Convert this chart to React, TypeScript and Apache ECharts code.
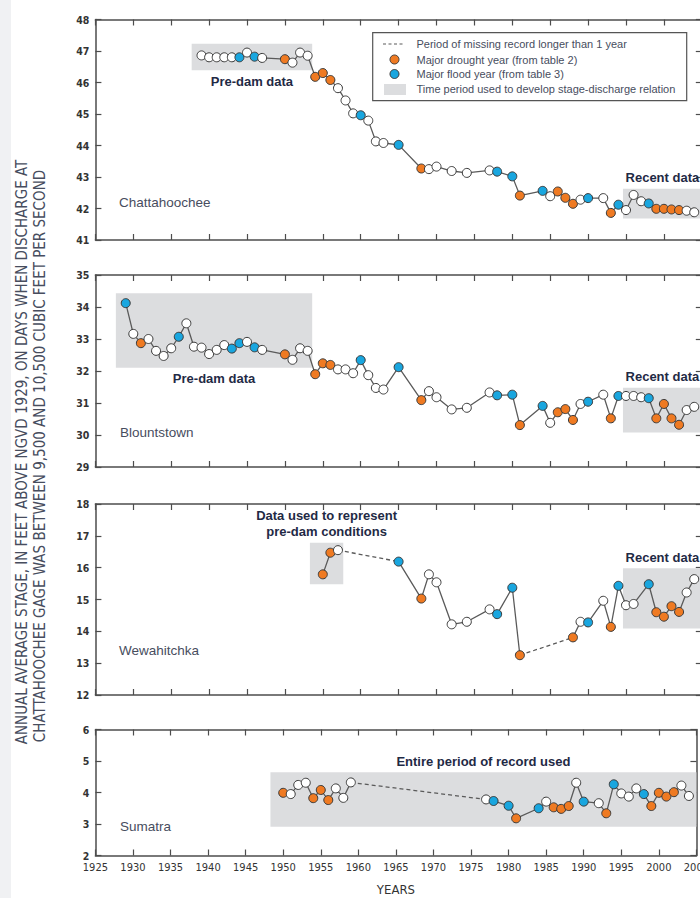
import React, { useEffect, useRef } from "react";
import * as echarts from "echarts";

// ---------- DATA ----------
const stationNames = ["Chattahoochee", "Blountstown", "Wewahitchka", "Sumatra"];

const chattYears = [1939,1940,1941,1942,1943,1944,1945,1946,1947,1950,1951,1952,1953,1954,1955,1956,1957,1958,1959,1960,1961,1962,1963,1965,1968,1969,1970,1972,1974,1977,1978,1980,1981,1984,1985,1986,1987,1988,1989,1990,1992,1993,1994,1995,1996,1997,1998,1999,2000,2001,2002,2003,2004];
const chattStage = [46.86,46.8,46.8,46.8,46.8,46.8,46.95,46.82,46.78,46.74,46.63,46.95,46.85,46.18,46.3,46.08,45.82,45.43,45.02,44.96,44.79,44.13,44.08,44.02,43.27,43.25,43.33,43.19,43.13,43.21,43.17,43.02,42.41,42.56,42.39,42.54,42.34,42.15,42.28,42.33,42.33,41.86,42.12,41.95,42.43,42.23,42.16,41.99,41.99,41.97,41.95,41.93,41.88];
const chattDrought = [1950,1954,1955,1956,1968,1981,1986,1987,1988,1993,1999,2000,2001,2002];
const chattFlood = [1944,1946,1960,1965,1978,1980,1984,1990,1994,1998];
const chattMissing: number[] = [];

const blountYears = [1929,1930,1931,1932,1933,1934,1935,1936,1937,1938,1939,1940,1941,1942,1943,1944,1945,1946,1947,1950,1951,1952,1953,1954,1955,1956,1957,1958,1959,1960,1961,1962,1963,1965,1968,1969,1970,1972,1974,1977,1978,1980,1981,1984,1985,1986,1987,1988,1989,1990,1992,1993,1994,1995,1996,1997,1998,1999,2000,2001,2002,2003,2004];
const blountStage = [34.12,33.16,32.87,33.0,32.63,32.47,32.71,33.07,33.49,32.76,32.73,32.53,32.66,32.81,32.7,32.87,32.91,32.74,32.66,32.52,32.35,32.71,32.63,31.9,32.24,32.19,32.05,32.05,31.93,32.34,31.87,31.47,31.42,32.12,31.09,31.37,31.18,30.8,30.85,31.33,31.24,31.26,30.31,30.91,30.38,30.71,30.81,30.47,30.97,31.04,31.26,30.52,31.22,31.22,31.22,31.18,31.15,30.52,30.97,30.52,30.32,30.78,30.88];
const blountDrought = [1931,1950,1954,1955,1956,1968,1981,1986,1987,1988,1993,1999,2000,2001,2002];
const blountFlood = [1929,1936,1943,1944,1946,1960,1965,1978,1980,1984,1990,1994,1998];
const blountMissing: number[] = [];

const wewaYears = [1955,1956,1957,1965,1968,1969,1970,1972,1974,1977,1978,1980,1981,1988,1989,1990,1992,1993,1994,1995,1996,1998,1999,2000,2001,2002,2003,2004];
const wewaStage = [15.79,16.47,16.55,16.19,15.03,15.79,15.54,14.22,14.3,14.69,14.54,15.37,13.25,13.81,14.3,14.28,14.96,14.14,15.43,14.82,14.86,15.48,14.6,14.46,14.79,14.61,15.22,15.64];
const wewaDrought = [1955,1956,1968,1981,1988,1993,1999,2000,2001,2002];
const wewaFlood = [1965,1978,1980,1990,1994,1998];
const wewaMissing = [1957, 1981]; // dashed segment starts after these years

const sumYears = [1950,1951,1952,1953,1954,1955,1956,1957,1958,1959,1977,1978,1980,1981,1984,1985,1986,1987,1988,1989,1990,1992,1993,1994,1995,1996,1997,1998,1999,2000,2001,2002,2003,2004];
const sumStage = [3.99,3.95,4.24,4.31,3.82,4.08,3.76,4.13,3.83,4.32,3.78,3.73,3.58,3.18,3.5,3.71,3.53,3.48,3.57,4.31,3.71,3.66,3.34,4.26,3.97,3.87,4.13,3.95,3.57,3.99,3.87,4.01,4.22,3.89];
const sumDrought = [1950,1954,1955,1956,1981,1986,1987,1988,1993,1999,2000,2001,2002];
const sumFlood = [1978,1980,1984,1990,1994,1998];
const sumMissing = [1959];

// y-axis ranges
const yMins = [41, 29, 12, 2];
const yMaxs = [48, 35, 18, 6];
const xMin = 1925;
const xMax = 2005;

// periods used to develop stage-discharge relation: [startYear, lowStage, endYear, highStage]
const chattPeriods = [[1937.7, 46.39, 1953.6, 47.23], [1994.6, 41.68, 2005, 42.63]];
const blountPeriods = [[1927.7, 32.1, 1953.6, 34.43], [1994.6, 30.08, 2005, 31.48]];
const wewaPeriods = [[1953.3, 15.48, 1957.7, 16.78], [1994.6, 14.09, 2005, 15.98]];
const sumPeriods = [[1948.3, 2.91, 2005, 4.64]];
const chattPeriodLabels = ["Pre-dam data", "Recent data"];
const blountPeriodLabels = ["Pre-dam data", "Recent data"];
const wewaPeriodLabels = ["Data used to represent\npre-dam conditions", "Recent data"];
const sumPeriodLabels = ["Entire period of record used"];

const legendItems = [
  "Period of missing record longer than 1 year",
  "Major drought year (from table 2)",
  "Major flood year (from table 3)",
  "Time period used to develop stage-discharge relation",
];
const yTitle1 = "ANNUAL AVERAGE STAGE, IN FEET ABOVE NGVD 1929, ON DAYS WHEN DISCHARGE AT";
const yTitle2 = "CHATTAHOOCHEE GAGE WAS BETWEEN 9,500 AND 10,500 CUBIC FEET PER SECOND";

// ---------- STYLE ----------
const COND = "'Liberation Sans Narrow','Arial Narrow','DejaVu Sans Condensed','Roboto Condensed','Liberation Sans',sans-serif";
const SANS = "'Liberation Sans',Arial,Helvetica,sans-serif";
const ORANGE = "#ef7a22";
const BLUE = "#19a6df";
const AXIS = "#4d4d4d";
const LINE = "#5a5a5a";
const BOX = "#dcdddf";
const LABEL_DARK = "#1f2a45";
const TEXT_GRAY = "#474d5e";

const gridLeft = 95.4;
const gridWidth = 606.4;
const panelTops = [19.5, 275, 504, 729.5];
const panelHeights = [220.5, 192, 191, 126];
const labelLayout = [
  ["bottom", "top"],
  ["bottom", "top"],
  ["top", "top"],
  ["top"],
];

export default function App() {
  const ref = useRef<HTMLDivElement>(null);
  useEffect(() => {
    if (!ref.current) return;
    const chart = echarts.init(ref.current, null, { renderer: "svg" });

    const stations = [
      { years: chattYears, stage: chattStage, drought: chattDrought, flood: chattFlood, missing: chattMissing, periods: chattPeriods, labels: chattPeriodLabels },
      { years: blountYears, stage: blountStage, drought: blountDrought, flood: blountFlood, missing: blountMissing, periods: blountPeriods, labels: blountPeriodLabels },
      { years: wewaYears, stage: wewaStage, drought: wewaDrought, flood: wewaFlood, missing: wewaMissing, periods: wewaPeriods, labels: wewaPeriodLabels },
      { years: sumYears, stage: sumStage, drought: sumDrought, flood: sumFlood, missing: sumMissing, periods: sumPeriods, labels: sumPeriodLabels },
    ];

    const grids: any[] = [];
    const xAxes: any[] = [];
    const yAxes: any[] = [];
    const series: any[] = [];
    const axisLine = { show: true, onZero: false, lineStyle: { color: AXIS, width: 1.5 } };
    const axisTick = { show: true, inside: true, length: 6, lineStyle: { color: AXIS, width: 1.2 } };

    for (let i = 0; i < 4; i++) {
      grids.push({ left: gridLeft, width: gridWidth, top: panelTops[i], height: panelHeights[i], containLabel: false });
    }
    for (let i = 0; i < 4; i++) {
      xAxes.push({
        gridIndex: i, type: "value", min: xMin, max: xMax, interval: 5, position: "bottom",
        axisLine, axisTick, splitLine: { show: false },
        axisLabel: { show: i === 3, color: "#333", fontFamily: COND, fontSize: 11, margin: 6, formatter: (v: number) => String(v) },
        name: i === 3 ? "YEARS" : "", nameLocation: "middle", nameGap: 27,
        nameTextStyle: { color: "#333", fontFamily: COND, fontSize: 13 },
      });
    }
    for (let i = 0; i < 4; i++) {
      xAxes.push({
        gridIndex: i, type: "value", min: xMin, max: xMax, interval: 5, position: "top",
        axisLine, axisTick, splitLine: { show: false }, axisLabel: { show: false },
      });
    }
    for (let i = 0; i < 4; i++) {
      yAxes.push({
        gridIndex: i, type: "value", min: yMins[i], max: yMaxs[i], interval: 1, position: "left",
        axisLine, axisTick, splitLine: { show: false },
        axisLabel: { color: "#333", fontFamily: COND, fontSize: 10.5, fontWeight: "bold", margin: 6 },
      });
    }
    for (let i = 0; i < 4; i++) {
      yAxes.push({
        gridIndex: i, type: "value", min: yMins[i], max: yMaxs[i], interval: 1, position: "right",
        axisLine, axisTick, splitLine: { show: false }, axisLabel: { show: false },
      });
    }

    stations.forEach((s, i) => {
      // dashed segments for missing records
      const dashed: any[] = [];
      s.missing.forEach((g) => {
        const k = s.years.indexOf(g);
        dashed.push([s.years[k], s.stage[k]], [s.years[k + 1], s.stage[k + 1]], [(s.years[k] + s.years[k + 1]) / 2 + 0.01, "-"]);
      });
      series.push({
        type: "line", xAxisIndex: i, yAxisIndex: i, data: dashed, symbol: "none", z: 2,
        lineStyle: { color: LINE, width: 1.3, type: [4, 3] }, silent: true, connectNulls: false,
        markArea: {
          silent: true,
          itemStyle: { color: BOX },
          label: { show: true, color: LABEL_DARK, fontFamily: SANS, fontWeight: "bold", fontSize: 13, lineHeight: 16 },
          data: s.periods.map((p, j) => [
            { xAxis: p[0], yAxis: p[1], name: s.labels[j], label: { position: labelLayout[i][j], distance: 3 } },
            { xAxis: p[2], yAxis: p[3] },
          ]),
        },
      });
      // solid line with markers
      const solid: any[] = [];
      s.years.forEach((y, k) => {
        const color = s.drought.includes(y) ? ORANGE : s.flood.includes(y) ? BLUE : "#ffffff";
        solid.push({ value: [y, s.stage[k]], itemStyle: { color } });
        if (s.missing.includes(y) && k < s.years.length - 1) {
          solid.push({ value: [(y + s.years[k + 1]) / 2, "-"] });
        }
      });
      series.push({
        type: "line", xAxisIndex: i, yAxisIndex: i, data: solid, z: 3, silent: true,
        connectNulls: false, showSymbol: true, showAllSymbol: true,
        symbol: "circle", symbolSize: 9,
        lineStyle: { color: LINE, width: 1.3 },
        itemStyle: { borderColor: "#3a3a3a", borderWidth: 1 },
      });
    });

    const stationLabelPos = [[119, 202], [120, 432], [119, 650], [120, 826]];
    const graphic: any[] = [
      { type: "rect", left: 0, top: 0, shape: { x: 0, y: 0, width: 11, height: 898 }, style: { fill: "#f0f1f3" }, z: 0 },
      { type: "text", x: 22, y: 452, rotation: Math.PI / 2, style: { text: yTitle1, fill: TEXT_GRAY, font: `15px ${COND}`, align: "center", verticalAlign: "middle" } },
      { type: "text", x: 40, y: 456, rotation: Math.PI / 2, style: { text: yTitle2, fill: TEXT_GRAY, font: `15px ${COND}`, align: "center", verticalAlign: "middle" } },
      ...stationNames.map((n, i) => ({
        type: "text", x: stationLabelPos[i][0], y: stationLabelPos[i][1],
        style: { text: n, fill: TEXT_GRAY, font: `13.5px ${SANS}`, align: "left", verticalAlign: "middle" },
      })),
      // legend
      { type: "rect", shape: { x: 372.7, y: 32.7, width: 314, height: 68 }, style: { fill: "#fff", stroke: "#555", lineWidth: 1.2 }, z: 10 },
      { type: "line", shape: { x1: 383, y1: 44, x2: 405, y2: 44 }, style: { stroke: LINE, lineWidth: 1.2, lineDash: [3, 2.5] }, z: 11 },
      { type: "circle", shape: { cx: 394.5, cy: 59.5, r: 4.5 }, style: { fill: ORANGE, stroke: "#3a3a3a", lineWidth: 1 }, z: 11 },
      { type: "circle", shape: { cx: 394.5, cy: 74, r: 4.5 }, style: { fill: BLUE, stroke: "#3a3a3a", lineWidth: 1 }, z: 11 },
      { type: "rect", shape: { x: 384, y: 84, width: 22, height: 11 }, style: { fill: BOX }, z: 11 },
      ...legendItems.map((t, j) => ({
        type: "text", x: 416.5, y: [44.3, 59.8, 73.5, 89.3][j], z: 11,
        style: { text: t, fill: TEXT_GRAY, font: `11px ${SANS}`, align: "left", verticalAlign: "middle" },
      })),
    ];

    chart.setOption({
      animation: false,
      backgroundColor: "#ffffff",
      grid: grids,
      xAxis: xAxes,
      yAxis: yAxes,
      series,
      graphic,
    });
    return () => chart.dispose();
  }, []);

  return (
    <div style={{ position: "fixed", left: 0, top: 0, width: 700, height: 898, overflow: "hidden", background: "#fff" }}>
      <div ref={ref} style={{ width: 712, height: 898 }} />
    </div>
  );
}
